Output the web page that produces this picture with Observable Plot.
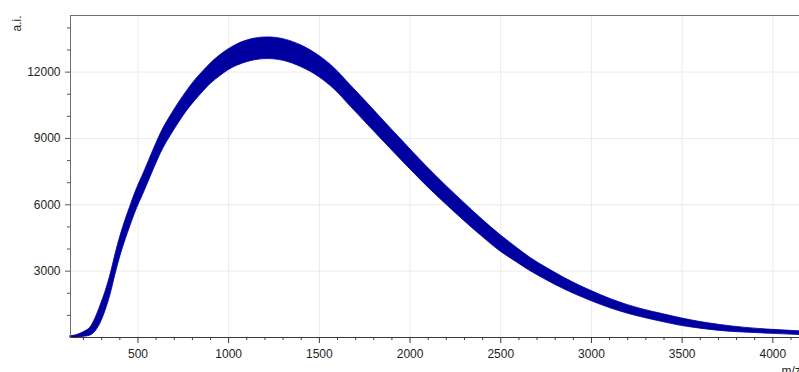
<!DOCTYPE html>
<html><head><meta charset="utf-8">
<script src="https://cdn.jsdelivr.net/npm/d3@7"></script>
<script src="https://cdn.jsdelivr.net/npm/@observablehq/plot@0.6"></script>
<style>
html,body{margin:0;padding:0;background:#fff;overflow:hidden}
#chart svg{display:block;max-width:none}
</style>
</head><body><div id="chart"></div>
<script>
// m/z sample positions
const mz = [128,160,183,210,238,266,293,321,349,376,404,431,459,481,541,587,640,679,725,771,817,863,900,955,1000,1047,1120,1215,1307,1399,1500,1583,1675,1767,1858,1950,2002,2097,2204,2296,2388,2500,2590,2664,2755,2847,2939,2998,3105,3197,3289,3381,3500,3601,3711,3840,4000,4147];
// lower edge of the noisy band (a.i.)
const lo = [0,0,10,40,90,275,630,1206,1944,2853,3700,4400,5050,5550,6700,7600,8550,9100,9700,10250,10720,11140,11460,11830,12090,12290,12490,12590,12500,12230,11770,11220,10420,9620,8830,8040,7600,6810,5980,5290,4630,3880,3390,3000,2580,2190,1850,1650,1320,1085,890,720,520,400,295,225,165,110];
// upper edge of the noisy band (a.i.)
const hi = [60,100,170,280,450,875,1430,2066,2844,3753,4600,5300,5950,6450,7600,8500,9450,10000,10600,11150,11640,12060,12380,12770,13030,13250,13470,13570,13480,13210,12730,12180,11380,10580,9770,8960,8500,7690,6820,6110,5410,4620,4050,3600,3140,2710,2330,2110,1740,1475,1260,1080,860,700,565,445,345,280];

const xTicks = [500,1000,1500,2000,2500,3000,3500,4000];
const xMinor = [200,300,400,600,700,800,900,1100,1200,1300,1400,1600,1700,1800,1900,2100,2200,2300,2400,2600,2700,2800,2900,3100,3200,3300,3400,3600,3700,3800,3900,4100];
const yTicks = [3000,6000,9000,12000];
const yMinor = [1000,2000,4000,5000,7000,8000,10000,11000,13000,14000];

const data = mz.map((m, i) => ({mz: m, lo: lo[i], hi: hi[i]}));
const fmt = d => String(d);

const chart = Plot.plot({
  width: 799,
  height: 372,
  marginLeft: 70,
  marginRight: 0,
  marginTop: 15,
  marginBottom: 35,
  style: {fontFamily: "'Liberation Sans', Arial, sans-serif", fontSize: "12px", color: "#1e1e1e", background: "#fff"},
  x: {domain: [128, 4147]},
  y: {domain: [0, 14560]},
  marks: [
    Plot.gridX(xTicks, {stroke: "#ebebeb", strokeOpacity: 1}),
    Plot.gridY(yTicks, {stroke: "#ebebeb", strokeOpacity: 1}),
    Plot.areaY(data, {x: "mz", y1: "lo", y2: "hi", fill: "#0000a0", stroke: "#0000a0", strokeWidth: 0.8, curve: "monotone-x"}),
    Plot.ruleX([128], {stroke: "#6e6e6e"}),
    Plot.ruleY([14560], {stroke: "#6e6e6e"}),
    Plot.ruleY([0], {stroke: "#3a3a3a"}),
    Plot.axisX(xTicks, {tickSize: 6, tickPadding: 6, label: null, stroke: "#3a3a3a", tickFormat: fmt}),
    Plot.axisX(xMinor, {tickSize: 3, text: null, label: null, stroke: "#3a3a3a"}),
    Plot.axisY(yTicks, {tickSize: 5, tickPadding: 5, label: null, stroke: "#555", tickFormat: fmt}),
    Plot.axisY(yMinor, {tickSize: 3, text: null, label: null, stroke: "#555"}),
    Plot.text(["a.i."], {frameAnchor: "top-left", dx: -53, dy: 0, rotate: -90, textAnchor: "end", lineAnchor: "middle", fontSize: 12, fill: "#1e1e1e"}),
    Plot.text(["m/z"], {frameAnchor: "bottom-right", dx: -18, dy: 34, textAnchor: "start", lineAnchor: "middle", fontSize: 12, fill: "#1e1e1e"})
  ]
});
document.getElementById("chart").appendChild(chart);
</script>
</body></html>
